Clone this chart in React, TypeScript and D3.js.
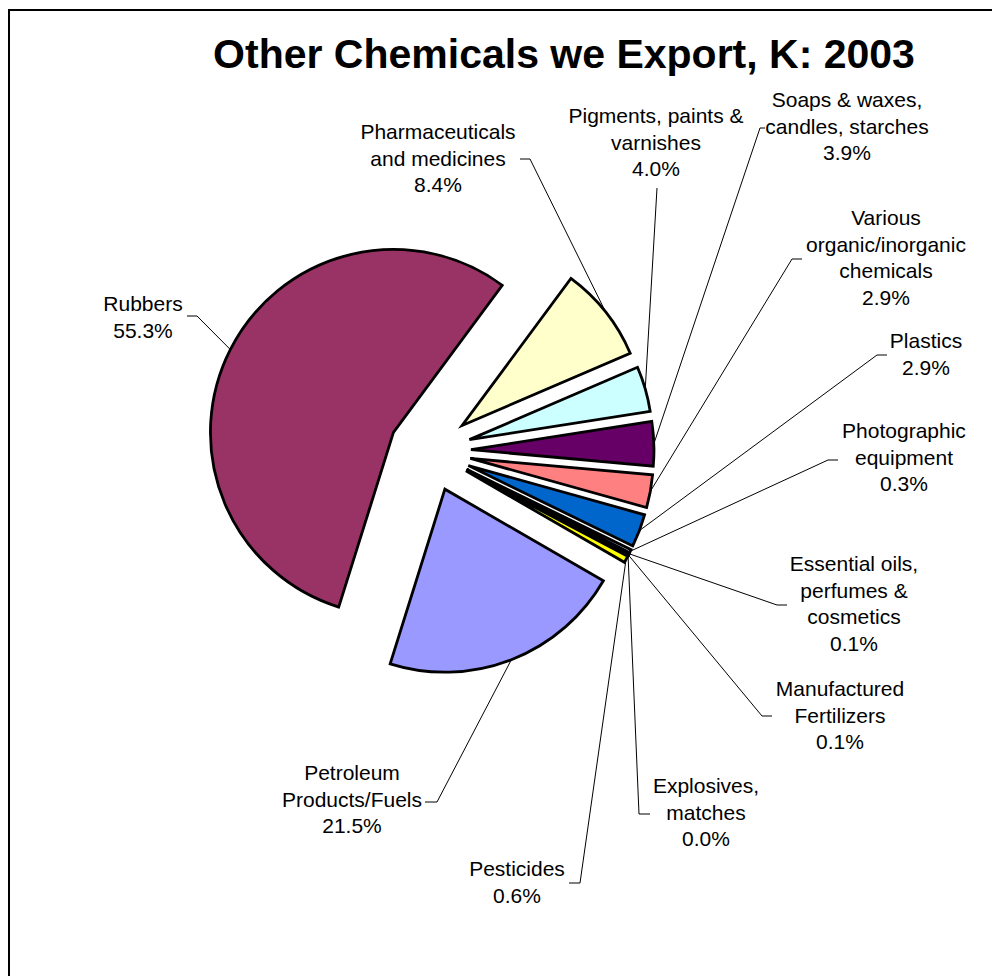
import React from "react";
import * as d3 from "d3";

const categories = [
  "Petroleum Products/Fuels",
  "Rubbers",
  "Pharmaceuticals and medicines",
  "Pigments, paints & varnishes",
  "Soaps & waxes, candles, starches",
  "Various organic/inorganic chemicals",
  "Plastics",
  "Photographic equipment",
  "Essential oils, perfumes & cosmetics",
  "Manufactured Fertilizers",
  "Explosives, matches",
  "Pesticides",
];
const shares = [21.5, 55.3, 8.4, 4.0, 3.9, 2.9, 2.9, 0.3, 0.1, 0.1, 0.0, 0.6];
const labelLines = [
  ["Petroleum", "Products/Fuels"],
  ["Rubbers"],
  ["Pharmaceuticals", "and medicines"],
  ["Pigments, paints &", "varnishes"],
  ["Soaps & waxes,", "candles, starches"],
  ["Various", "organic/inorganic", "chemicals"],
  ["Plastics"],
  ["Photographic", "equipment"],
  ["Essential oils,", "perfumes &", "cosmetics"],
  ["Manufactured", "Fertilizers"],
  ["Explosives,", "matches"],
  ["Pesticides"],
];
const title = "Other Chemicals we Export, K: 2003";

// layout (not data)
const sliceColors = [
  "#9999FF", "#993366", "#FFFFCC", "#CCFFFF", "#660066", "#FF8080",
  "#0066CC", "#CCCCFF", "#000080", "#800080", "#FF00FF", "#FFFF00",
];
const labelLayout = [
  { x: 352, y: 780, stub: [[425, 802], [437, 802]] },
  { x: 143, y: 311, stub: [[187, 316], [197, 316]] },
  { x: 438, y: 139, stub: [[520, 159], [530, 159]] },
  { x: 656, y: 123, stub: [[657, 188]] },
  { x: 847, y: 107, stub: [[765, 128], [760, 128]] },
  { x: 886, y: 225, stub: [[802, 259], [792, 259]] },
  { x: 926, y: 348, stub: [[887, 355], [877, 355]] },
  { x: 904, y: 438, stub: [[838, 460], [828, 460]] },
  { x: 854, y: 571, stub: [[787, 605], [777, 605]] },
  { x: 840, y: 696, stub: [[772, 716], [762, 716]] },
  { x: 706, y: 793, stub: [[650, 814], [639, 814]] },
  { x: 517, y: 876, stub: [[569, 883], [580, 883]] },
];

const W = 992;
const H = 976;
const cx = 430;
const cy = 451;
const R = 183;
const EXPLODE = 41;
const LINE_H = 26.7;
const FONT = "'Liberation Sans', Arial, Helvetica, sans-serif";

export default function App() {
  const start = (120 * Math.PI) / 180;
  const pie = d3
    .pie<number>()
    .sort(null)
    .value((d) => d)
    .startAngle(start)
    .endAngle(start + 2 * Math.PI);
  const arcs = pie(shares);
  const arcGen = d3.arc<d3.PieArcDatum<number>>().innerRadius(0).outerRadius(R);
  const pctFmt = (v: number) => d3.format(".1f")(v) + "%";

  const slices = arcs.map((a, i) => {
    const mid = (a.startAngle + a.endAngle) / 2;
    const ox = cx + Math.sin(mid) * EXPLODE;
    const oy = cy - Math.cos(mid) * EXPLODE;
    const endX = ox + Math.sin(mid) * R;
    const endY = oy - Math.cos(mid) * R;
    return { a, i, ox, oy, endX, endY };
  });

  return (
    <svg
      width={W}
      height={H}
      style={{ position: "absolute", left: 0, top: 0, background: "#fff" }}
      fontFamily={FONT}
    >
      <rect x={9} y={10} width={1100} height={1100} fill="#fff" stroke="#000" strokeWidth={2} />
      <text x={564} y={68} textAnchor="middle" fontSize={41} fontWeight="bold" fill="#000">
        {title}
      </text>
      {slices.map((s) =>
        s.a.endAngle - s.a.startAngle > 0 ? (
          <path
            key={"s" + s.i}
            d={arcGen(s.a) || ""}
            transform={`translate(${s.ox},${s.oy})`}
            fill={sliceColors[s.i]}
            stroke="#000"
            strokeWidth={2.8}
            strokeLinejoin="miter"
          />
        ) : null
      )}
      {slices.map((s) => {
        const L = labelLayout[s.i];
        const pts = [...L.stub, [s.endX, s.endY]];
        const line = d3.line()(pts as [number, number][]);
        return (
          <path key={"l" + s.i} d={line || ""} fill="none" stroke="#000" strokeWidth={1} />
        );
      })}
      {slices.map((s) => {
        const L = labelLayout[s.i];
        const lines = [...labelLines[s.i], pctFmt(shares[s.i])];
        return (
          <text key={"t" + s.i} textAnchor="middle" fontSize={21} fill="#000">
            {lines.map((ln, k) => (
              <tspan key={k} x={L.x} y={L.y + k * LINE_H}>
                {ln}
              </tspan>
            ))}
          </text>
        );
      })}
    </svg>
  );
}
